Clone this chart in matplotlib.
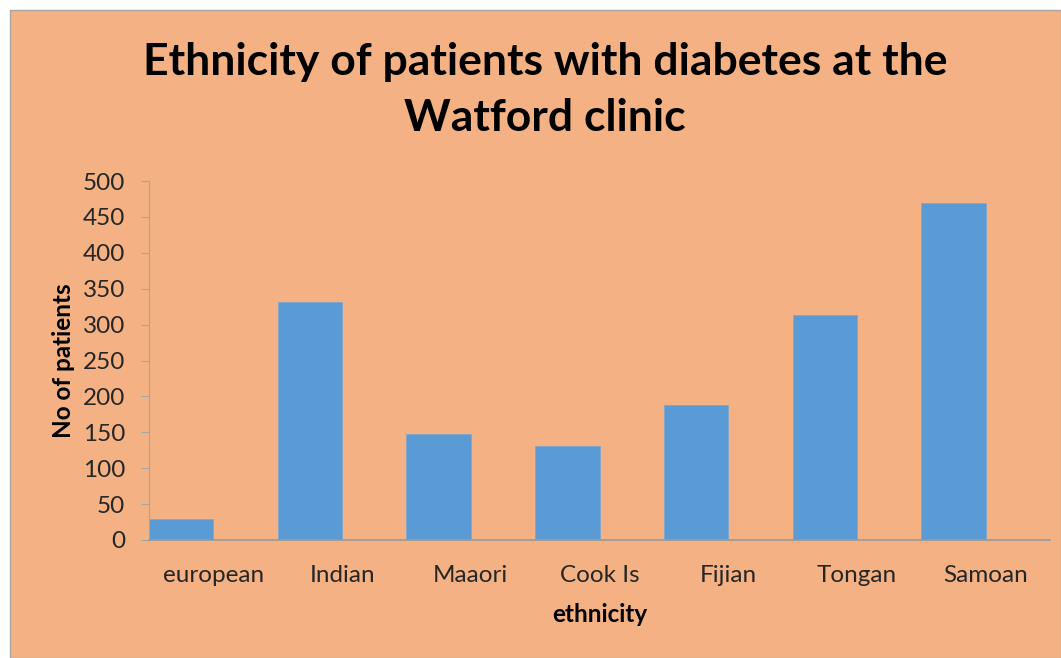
import matplotlib.pyplot as plt
from matplotlib.patches import Rectangle

# Data
ethnicities = ['european', 'Indian', 'Maaori', 'Cook Is', 'Fijian', 'Tongan', 'Samoan']
patients = [29, 332, 147, 131, 188, 313, 470]
y_ticks = [0, 50, 100, 150, 200, 250, 300, 350, 400, 450, 500]

W, H = 1061, 658
fig = plt.figure(figsize=(W / 100, H / 100), dpi=100)
fig.patch.set_facecolor('white')
plt.rcParams['font.family'] = ['Lato', 'DejaVu Sans']

# peach chart area
fig.patches.append(Rectangle((10 / W, 0), 1 - 10 / W, 1 - 10 / H, transform=fig.transFigure,
                             facecolor='#F4B183', edgecolor='#A6A6A6', linewidth=1, zorder=-5))

ax = fig.add_axes([149 / W, (H - 540) / H, (1050 - 149) / W, (540 - 181) / H])
ax.set_facecolor('none')
ax.set_zorder(2)

x = list(range(len(ethnicities)))
ax.bar(x, patients, width=0.5, align='edge', color='#5B9BD5', edgecolor='#7FA7CF', linewidth=0.6)

ax.set_xlim(0, len(ethnicities))
ax.set_ylim(0, 500)
ax.set_yticks(y_ticks)
ax.set_xticks([i + 0.5 for i in x])
ax.set_xticklabels(ethnicities)

for s in ['top', 'right']:
    ax.spines[s].set_visible(False)
ax.spines['left'].set_color('#A6A6A6')
ax.spines['bottom'].set_color('#999999')
ax.spines['bottom'].set_linewidth(1.2)

ax.tick_params(axis='y', length=6, color='#A6A6A6', pad=11, labelsize=17.5, labelcolor='#262626')
ax.tick_params(axis='x', length=0, pad=18, labelsize=17.5, labelcolor='#262626')

ax.set_ylabel('No of patients', fontsize=17.5, fontweight='bold', labelpad=6)
ax.set_xlabel('ethnicity', fontsize=17.5, fontweight='bold', labelpad=12)

fig.text(545 / W, 1 - 62 / H, 'Ethnicity of patients with diabetes at the', ha='center', va='center',
         fontsize=32, fontweight='bold', zorder=3)
fig.text(545 / W, 1 - 118 / H, 'Watford clinic', ha='center', va='center',
         fontsize=32, fontweight='bold', zorder=3)

fig.savefig('out.png', dpi=100)
